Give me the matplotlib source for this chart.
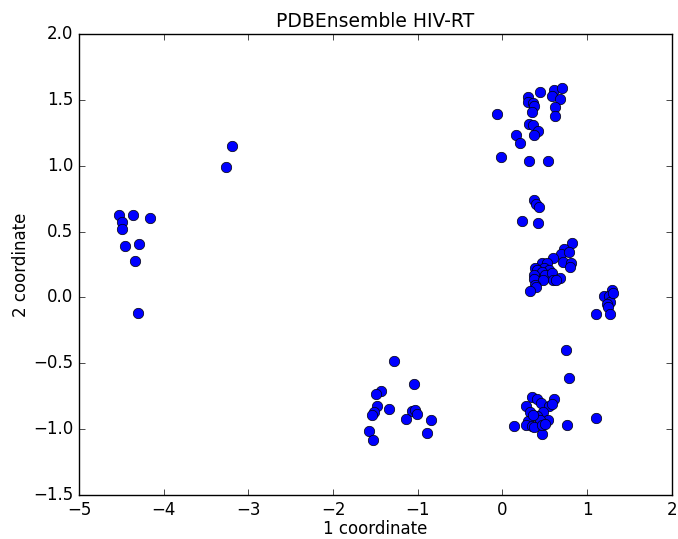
import matplotlib
matplotlib.use("Agg")
import matplotlib.pyplot as plt

plt.style.use("classic")

x_vals = [
    # left cluster
    -4.524, -4.366, -4.162, -4.496, -4.489, -4.453, -4.295, -4.342, -4.303,
    -3.265, -3.194,
    # top cluster
    0.305, 0.443, 0.608, 0.703, 0.584, 0.679, 0.296, 0.356, 0.375, 0.616, 0.349,
    0.623, -0.069, 0.317, 0.364, 0.419, 0.372, 0.159, 0.206, -0.014, 0.309, 0.540,
    # middle
    0.375, 0.395, 0.434, 0.226, 0.423,
    0.820, 0.730, 0.690, 0.785, 0.592, 0.718, 0.805, 0.797, 0.462, 0.521, 0.493,
    0.384, 0.403, 0.552, 0.462, 0.372, 0.502, 0.581, 0.679, 0.375, 0.592, 0.631,
    0.481, 0.384, 0.395, 0.325,
    # right small cluster
    1.296, 1.198, 1.261, 1.269, 1.229, 1.249, 1.269, 1.100, 1.308,
    # bottom right
    0.749, 0.788, 1.104, 0.765, 0.139, 0.470,
    0.352, 0.411, 0.612, 0.273, 0.451, 0.549, 0.581, 0.325, 0.481, 0.403, 0.540,
    0.305, 0.443, 0.277, 0.344, 0.372, 0.462, 0.502, 0.364,
    # bottom middle
    -1.281, -1.041, -1.435, -1.494, -1.478, -1.336, -1.517, -1.544, -1.072, -1.033,
    -1.006, -1.140, -0.841, -1.573, -0.895, -1.526,
]
y_vals = [
    0.627, 0.622, 0.600, 0.569, 0.516, 0.387, 0.404, 0.275, -0.118,
    0.990, 1.149,
    1.524, 1.562, 1.574, 1.587, 1.531, 1.504, 1.483, 1.473, 1.453, 1.448, 1.407,
    1.379, 1.390, 1.316, 1.311, 1.265, 1.233, 1.235, 1.169, 1.065, 1.033, 1.037,
    0.739, 0.708, 0.688, 0.581, 0.562,
    0.410, 0.364, 0.328, 0.341, 0.298, 0.270, 0.258, 0.233, 0.263, 0.263, 0.227,
    0.220, 0.207, 0.207, 0.194, 0.169, 0.169, 0.182, 0.144, 0.138, 0.131, 0.131,
    0.133, 0.093, 0.076, 0.050,
    0.058, 0.007, 0.007, -0.036, -0.048, -0.074, -0.129, -0.129, 0.034,
    -0.396, -0.609, -0.913, -0.966, -0.973, -1.040,
    -0.756, -0.768, -0.773, -0.821, -0.802, -0.827, -0.812, -0.870, -0.870, -0.903, -0.928,
    -0.938, -0.933, -0.971, -0.976, -0.984, -0.971, -0.958, -0.895,
    -0.485, -0.660, -0.713, -0.731, -0.827, -0.850, -0.870, -0.895, -0.862, -0.852,
    -0.882, -0.920, -0.928, -1.014, -1.029, -1.080,
]

title = "PDBEnsemble HIV-RT"
x_label = "1 coordinate"
y_label = "2 coordinate"

fig = plt.figure(figsize=(6.78, 5.39), dpi=100, facecolor="white")
ax = fig.add_axes([0.1165, 0.0816, 0.8745, 0.8554])
ax.plot(x_vals, y_vals, "bo", markersize=7.5)
ax.set_xlim(-5, 2)
ax.set_ylim(-1.5, 2.0)
ax.set_xticks(range(-5, 3))
ax.set_yticks([-1.5, -1.0, -0.5, 0.0, 0.5, 1.0, 1.5, 2.0])
ax.set_title(title, fontsize=13.5)
ax.set_xlabel(x_label, fontsize=12, labelpad=1)
ax.set_ylabel(y_label, fontsize=12, labelpad=2)
ax.tick_params(labelsize=12)
fig.savefig("out.png", dpi=100, facecolor="white")
